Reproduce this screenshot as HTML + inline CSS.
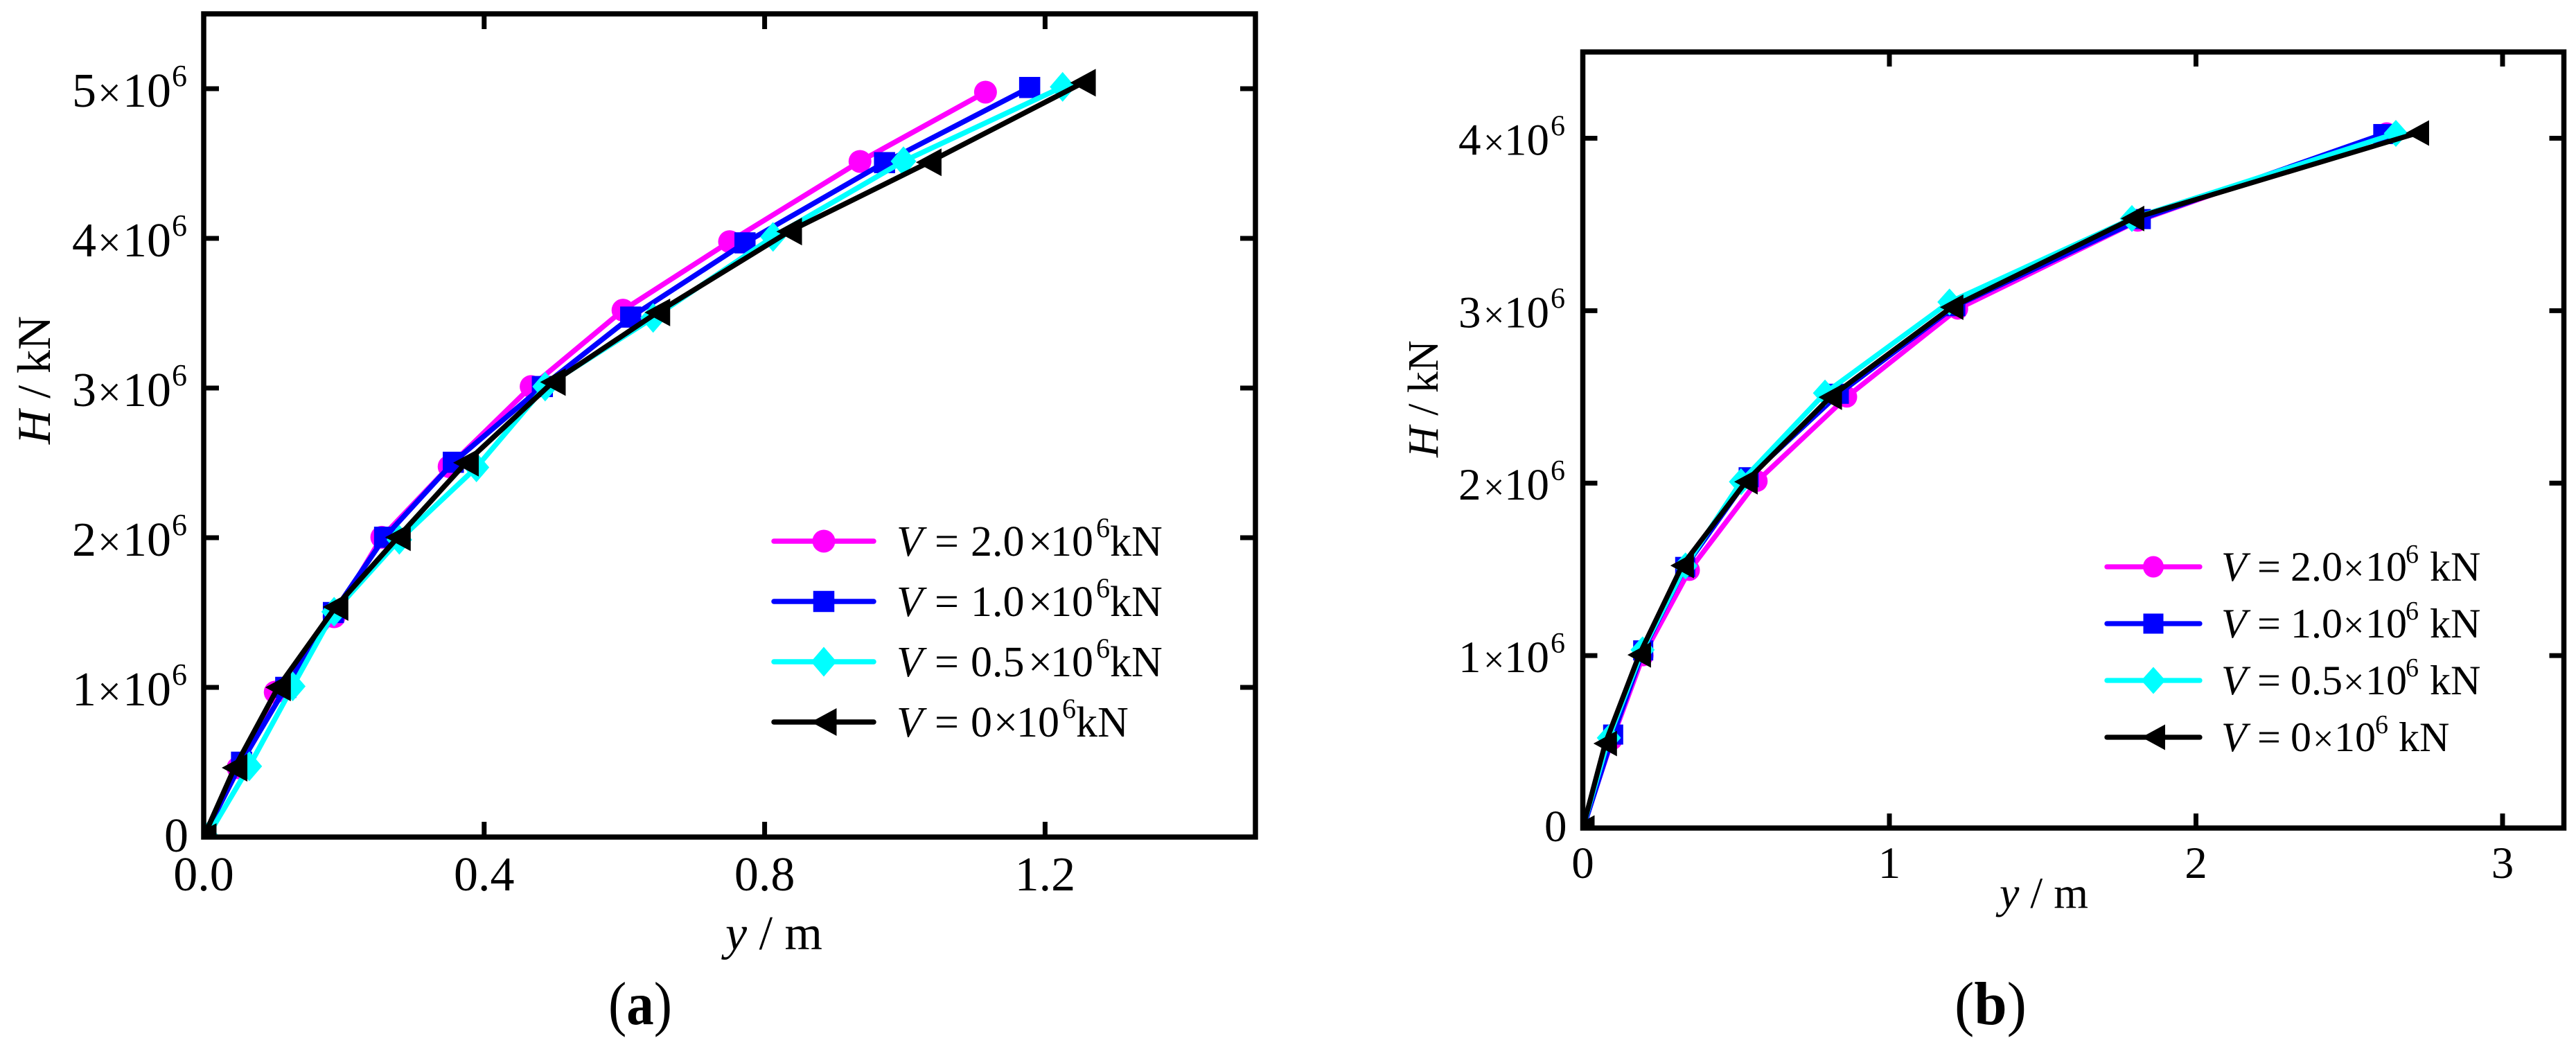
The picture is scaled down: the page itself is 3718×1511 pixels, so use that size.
<!DOCTYPE html>
<html lang="en">
<head>
<meta charset="utf-8">
<title>H versus y load curves</title>
<style>
html,body{margin:0;padding:0;background:#fff;width:3718px;height:1511px;overflow:hidden}
svg{display:block}
text{font-family:"Liberation Serif",serif;fill:#000}
.it{font-style:italic}
</style>
</head>
<body>
<svg id="figure" xmlns="http://www.w3.org/2000/svg" width="3718" height="1511" viewBox="0 0 3718 1511">
<rect width="3718" height="1511" fill="#fff"/>
<g id="panelA"></g>
<g id="panelB"></g>

<g font-size="68">
<text transform="translate(72,641) rotate(-90)" xml:space="preserve"><tspan class="it">H</tspan> / kN</text>
<text x="1047" y="1370" xml:space="preserve" font-size="70"><tspan class="it">y</tspan> / m</text>
</g>
<text x="878" y="1478" font-size="88" textLength="92" lengthAdjust="spacingAndGlyphs">(<tspan font-weight="bold">a</tspan>)</text>

<g font-size="62">
<text transform="translate(2075,660) rotate(-90)" xml:space="preserve"><tspan class="it">H</tspan> / kN</text>
<text x="2886" y="1310" xml:space="preserve" font-size="64"><tspan class="it">y</tspan> / m</text>
</g>
<text x="2821" y="1478" font-size="88" textLength="104" lengthAdjust="spacingAndGlyphs">(<tspan font-weight="bold">b</tspan>)</text>

<g font-size="62">
<text y="802"><tspan class="it" x="1294">V</tspan><tspan x="1349">=</tspan><tspan x="1401">2.0</tspan><tspan x="1484">×</tspan><tspan x="1516">10</tspan><tspan x="1582" y="775" font-size="40">6</tspan><tspan x="1602" y="802">kN</tspan></text>
<text y="889"><tspan class="it" x="1294">V</tspan><tspan x="1349">=</tspan><tspan x="1401">1.0</tspan><tspan x="1484">×</tspan><tspan x="1516">10</tspan><tspan x="1582" y="862" font-size="40">6</tspan><tspan x="1602" y="889">kN</tspan></text>
<text y="976"><tspan class="it" x="1294">V</tspan><tspan x="1349">=</tspan><tspan x="1401">0.5</tspan><tspan x="1484">×</tspan><tspan x="1516">10</tspan><tspan x="1582" y="949" font-size="40">6</tspan><tspan x="1602" y="976">kN</tspan></text>
<text y="1063"><tspan class="it" x="1294">V</tspan><tspan x="1349">=</tspan><tspan x="1401">0</tspan><tspan x="1434">×</tspan><tspan x="1467">10</tspan><tspan x="1533" y="1036" font-size="40">6</tspan><tspan x="1553" y="1063">kN</tspan></text>
</g>

<g font-size="60">
<text y="838"><tspan class="it" x="3206">V</tspan><tspan x="3258">=</tspan><tspan x="3306">2.0</tspan><tspan x="3382" font-size="54">×</tspan><tspan x="3414">10</tspan><tspan x="3472" y="812" font-size="38">6</tspan><tspan x="3507" y="838">kN</tspan></text>
<text y="920"><tspan class="it" x="3206">V</tspan><tspan x="3258">=</tspan><tspan x="3306">1.0</tspan><tspan x="3382" font-size="54">×</tspan><tspan x="3414">10</tspan><tspan x="3472" y="894" font-size="38">6</tspan><tspan x="3507" y="920">kN</tspan></text>
<text y="1002"><tspan class="it" x="3206">V</tspan><tspan x="3258">=</tspan><tspan x="3306">0.5</tspan><tspan x="3382" font-size="54">×</tspan><tspan x="3414">10</tspan><tspan x="3472" y="976" font-size="38">6</tspan><tspan x="3507" y="1002">kN</tspan></text>
<text y="1084"><tspan class="it" x="3206">V</tspan><tspan x="3258">=</tspan><tspan x="3306">0</tspan><tspan x="3338" font-size="54">×</tspan><tspan x="3369">10</tspan><tspan x="3428" y="1058" font-size="38">6</tspan><tspan x="3462" y="1084">kN</tspan></text>
</g>
</svg>

<script>
// Panel (a) data: displacement y (m) and horizontal load H (10^6 kN)
const aMagentaY = [0, 0.049, 0.102, 0.186, 0.254, 0.350, 0.467, 0.598, 0.750, 0.936, 1.115];
const aMagentaH = [0, 0.463, 0.968, 1.472, 2.003, 2.475, 3.010, 3.520, 3.978, 4.514, 4.977];
const aBlueY = [0, 0.054, 0.117, 0.185, 0.258, 0.356, 0.483, 0.609, 0.772, 0.971, 1.178];
const aBlueH = [0, 0.500, 1.000, 1.500, 2.003, 2.504, 3.010, 3.474, 3.970, 4.506, 5.008];
const aCyanY = [0.005, 0.065, 0.127, 0.186, 0.279, 0.389, 0.487, 0.641, 0.812, 0.998, 1.225];
const aCyanH = [0, 0.473, 1.007, 1.505, 1.986, 2.470, 3.010, 3.469, 4.010, 4.515, 5.012];
const aBlackY = [0, 0.044, 0.106, 0.188, 0.277, 0.374, 0.498, 0.647, 0.835, 1.034, 1.254];
const aBlackH = [0, 0.463, 1.000, 1.537, 2.003, 2.501, 3.040, 3.505, 4.046, 4.508, 5.040];
const aXTicks = [0, 0.4, 0.8, 1.2];
const aXTickLabels = ["0.0", "0.4", "0.8", "1.2"];
const aYTicks = [0, 1, 2, 3, 4, 5];
const aYTickDigits = ["0", "1", "2", "3", "4", "5"];

// Panel (b) data
const bMagentaY = [0, 0.096, 0.197, 0.348, 0.569, 0.861, 1.223, 1.810, 2.622];
const bMagentaH = [0, 0.514, 1.000, 1.495, 2.012, 2.500, 3.010, 3.520, 4.030];
const bBlueY = [0.002, 0.099, 0.197, 0.334, 0.541, 0.835, 1.215, 1.820, 2.611];
const bBlueH = [0, 0.542, 1.030, 1.514, 2.034, 2.518, 3.026, 3.531, 4.024];
const bCyanY = [0, 0.085, 0.195, 0.335, 0.516, 0.790, 1.196, 1.791, 2.652];
const bCyanH = [0, 0.523, 1.033, 1.520, 2.008, 2.522, 3.050, 3.534, 4.028];
const bBlackY = [0, 0.073, 0.184, 0.324, 0.532, 0.807, 1.203, 1.793, 2.722];
const bBlackH = [0, 0.490, 1.004, 1.522, 2.008, 2.498, 3.020, 3.534, 4.030];
const bXTicks = [0, 1, 2, 3];
const bXTickLabels = ["0", "1", "2", "3"];
const bYTicks = [0, 1, 2, 3, 4];
const bYTickDigits = ["0", "1", "2", "3", "4"];

const NS = "http://www.w3.org/2000/svg";
function mk(tag, parent, attrs) {
  const el = document.createElementNS(NS, tag);
  for (const k in attrs) el.setAttribute(k, attrs[k]);
  parent.appendChild(el);
  return el;
}

function drawMarker(parent, shape, cx, cy, s, color) {
  let el;
  if (shape === "circle") {
    el = mk("ellipse", parent, {cx: cx, cy: cy, rx: s.circle[0] / 2, ry: s.circle[1] / 2, fill: color});
  } else if (shape === "square") {
    el = mk("rect", parent, {x: cx - s.square / 2, y: cy - s.square / 2, width: s.square, height: s.square, fill: color});
  } else if (shape === "diamond") {
    const w = s.diamond[0] / 2, h = s.diamond[1] / 2;
    el = mk("polygon", parent, {points: (cx - w) + "," + cy + " " + cx + "," + (cy - h) + " " + (cx + w) + "," + cy + " " + cx + "," + (cy + h), fill: color});
  } else {
    const w = s.tri[0] / 2, h = s.tri[1] / 2;
    el = mk("polygon", parent, {points: (cx - w) + "," + cy + " " + (cx + w) + "," + (cy - h) + " " + (cx + w) + "," + (cy + h), fill: color});
  }
  
  
}

function drawPanel(cfg) {
  const g = document.getElementById(cfg.id);
  const px = v => cfg.left + (v / cfg.xMax) * (cfg.right - cfg.left);
  const py = v => cfg.bottom - (v / cfg.yMax) * (cfg.bottom - cfg.top);

  const defs = mk("defs", g, {});
  const clip = mk("clipPath", defs, {id: cfg.id + "Clip"});
  mk("rect", clip, {x: cfg.left, y: cfg.top, width: cfg.right - cfg.left, height: cfg.bottom - cfg.top});

  const plot = mk("g", g, {"clip-path": "url(#" + cfg.id + "Clip)"});
  
  

  cfg.series.forEach(function (se) {
    const sg = mk("g", plot, {});
    
    
    const pts = se.y.map((v, i) => px(v) + "," + py(se.h[i])).join(" ");
    const line = mk("polyline", sg, {points: pts, fill: "none", stroke: se.color, "stroke-width": cfg.lw, "stroke-linejoin": "round", "stroke-linecap": "round"});
    
    
    se.y.forEach(function (v, i) {
      drawMarker(sg, se.shape, px(v), py(se.h[i]), cfg.marker, se.color);
    });
  });

  const frame = mk("rect", g, {x: cfg.left, y: cfg.top, width: cfg.right - cfg.left, height: cfg.bottom - cfg.top, fill: "none", stroke: "#000", "stroke-width": 7.5});
  
  

  // x ticks and labels
  cfg.xTicks.forEach(function (v, i) {
    const x = px(v);
    if (v !== 0) {
      [[cfg.bottom, cfg.bottom - cfg.tick], [cfg.top, cfg.top + cfg.tick]].forEach(function (p) {
        const t = mk("line", g, {x1: x, x2: x, y1: p[0], y2: p[1], stroke: "#000", "stroke-width": 7});
        
        
      });
    }
    const lab = mk("text", g, {x: x, y: cfg.xLabelY, "text-anchor": "middle", "font-size": cfg.font});
    lab.textContent = cfg.xLabels[i];
    
    
  });

  // y ticks and labels
  cfg.yTicks.forEach(function (v, i) {
    const y = py(v);
    if (v === 0) {
      const z = mk("text", g, {x: cfg.zeroX, y: y + cfg.zeroDy, "font-size": cfg.font});
      z.textContent = cfg.yDigits[i];
      
      
      return;
    }
    [[cfg.left, cfg.left + cfg.tick], [cfg.right, cfg.right - cfg.tick]].forEach(function (p) {
      const t = mk("line", g, {x1: p[0], x2: p[1], y1: y, y2: y, stroke: "#000", "stroke-width": 7});
      
      
    });
    const base = y + cfg.labelDy;
    const lab = mk("text", g, {y: base, "font-size": cfg.font});
    
    
    const o = cfg.labelX;
    const d = mk("tspan", lab, {x: o[0], y: base});
    d.textContent = cfg.yDigits[i];
    const times = mk("tspan", lab, {x: o[1], y: base, "font-size": cfg.timesFont});
    times.textContent = "×";
    const ten = mk("tspan", lab, {x: o[2], y: base});
    ten.textContent = "10";
    const sup = mk("tspan", lab, {x: o[3], y: base - cfg.supRise, "font-size": cfg.supFont});
    sup.textContent = "6";
  });

  // legend graphics
  cfg.series.forEach(function (se, i) {
    const ly = cfg.legend.ys[i];
    const lg = mk("g", g, {});
    
    
    const l = mk("line", lg, {x1: cfg.legend.x1, x2: cfg.legend.x2, y1: ly, y2: ly, stroke: se.color, "stroke-width": cfg.lw, "stroke-linecap": "round"});
    
    
    drawMarker(lg, se.shape, cfg.legend.mx, ly, cfg.marker, se.color);
  });
}

drawPanel({
  id: "panelA", tag: "panel-a", left: 294, right: 1812, top: 20, bottom: 1208, xMax: 1.5, yMax: 5.5,
  lw: 7.5, tick: 22, font: 70, timesFont: 60, supFont: 44, supRise: 30, labelDy: 26, zeroDy: 21,
  zeroX: 237, xLabelY: 1285, labelX: [104, 141, 177, 248],
  marker: {circle: [33, 33], square: 30.5, diamond: [37, 43], tri: [37, 40]},
  xTicks: aXTicks, xLabels: aXTickLabels, yTicks: aYTicks, yDigits: aYTickDigits,
  legend: {x1: 1117, x2: 1261, mx: 1189, ys: [781, 868, 955, 1042]},
  series: [
    {name: "v-2", color: "#ff00ff", shape: "circle", y: aMagentaY, h: aMagentaH},
    {name: "v-1", color: "#0000ff", shape: "square", y: aBlueY, h: aBlueH},
    {name: "v-0-5", color: "#00ffff", shape: "diamond", y: aCyanY, h: aCyanH},
    {name: "v-0", color: "#000000", shape: "triangle", y: aBlackY, h: aBlackH}
  ]
});

drawPanel({
  id: "panelB", tag: "panel-b", left: 2284.5, right: 3700.5, top: 75, bottom: 1195, xMax: 3.2, yMax: 4.5,
  lw: 7.3, tick: 21, font: 65, timesFont: 54, supFont: 42, supRise: 28, labelDy: 24, zeroDy: 19,
  zeroX: 2229, xLabelY: 1267, labelX: [2105, 2141, 2171, 2238],
  marker: {circle: [30, 31], square: 29, diamond: [35, 39], tri: [34, 37]},
  xTicks: bXTicks, xLabels: bXTickLabels, yTicks: bYTicks, yDigits: bYTickDigits,
  legend: {x1: 3041, x2: 3175, mx: 3108, ys: [818, 900, 982, 1064]},
  series: [
    {name: "v-2", color: "#ff00ff", shape: "circle", y: bMagentaY, h: bMagentaH},
    {name: "v-1", color: "#0000ff", shape: "square", y: bBlueY, h: bBlueH},
    {name: "v-0-5", color: "#00ffff", shape: "diamond", y: bCyanY, h: bCyanH},
    {name: "v-0", color: "#000000", shape: "triangle", y: bBlackY, h: bBlackH}
  ]
});
</script>
</body>
</html>
